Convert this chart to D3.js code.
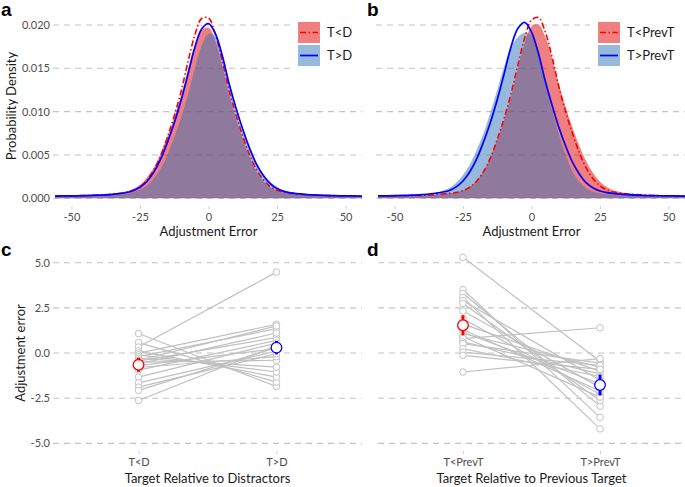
<!DOCTYPE html>
<html><head><meta charset="utf-8">
<script src="https://cdn.jsdelivr.net/npm/d3@7"></script>
<style>
body{margin:0;background:#fff;}
text{font-family:Lato,"Open Sans",sans-serif;}
</style></head>
<body><svg id="c" width="685" height="487"></svg>
<script>
// ---------- DATA ----------
const errX = [-56,-50,-45,-40,-35,-30,-27.5,-25,-22.5,-20,-17.5,-15,-12.5,-10,-7.5,-5,-2.5,0,2.5,5,7.5,10,12.5,15,17.5,20,22.5,25,27.5,30,35,40,45,50,56];
// panel a: empirical densities (filled) and fitted densities (lines)
const aFillTlessD    = [0.00025,0.00029,0.00033,0.00041,0.00054,0.00079,0.00108,0.00155,0.00238,0.00352,0.00512,0.00712,0.00932,0.01185,0.01488,0.01762,0.0194,0.0197,0.01814,0.0153,0.01198,0.00925,0.00683,0.00473,0.0031,0.00198,0.00127,0.00085,0.00064,0.00054,0.0004,0.00032,0.00028,0.00026,0.00025];
const aFillTgreaterD = [0.00025,0.00026,0.00028,0.00033,0.00042,0.00058,0.00071,0.00098,0.00144,0.00225,0.0034,0.00503,0.00705,0.00931,0.0119,0.01498,0.01757,0.019,0.0187,0.0164,0.0131,0.0101,0.0077,0.0057,0.004,0.0028,0.0019,0.0013,0.0009,0.00068,0.00047,0.00036,0.0003,0.00027,0.00025];
const aLineTlessD    = [0.00027,0.00029,0.00032,0.00038,0.00049,0.00069,0.00092,0.00134,0.00209,0.00325,0.0049,0.00706,0.00952,0.01233,0.01573,0.01882,0.02075,0.0208,0.01892,0.01586,0.01245,0.00964,0.00716,0.00498,0.0033,0.00214,0.00137,0.00093,0.0007,0.00059,0.00044,0.00035,0.00031,0.00029,0.00027];
const aLineTgreaterD = [0.00026,0.00028,0.0003,0.00036,0.00046,0.00067,0.00088,0.00127,0.00194,0.00299,0.00448,0.00644,0.00869,0.01131,0.0143,0.0174,0.01955,0.02016,0.019,0.0165,0.01325,0.01046,0.00797,0.00578,0.00394,0.00263,0.0017,0.00113,0.0008,0.00063,0.00046,0.00036,0.0003,0.00028,0.00026];
// panel b
const bFillTlessPrevT    = [0.00026,0.00027,0.00029,0.00033,0.00042,0.00057,0.00067,0.00089,0.00129,0.002,0.00309,0.00467,0.00671,0.00905,0.01174,0.01493,0.01794,0.01984,0.02008,0.01864,0.01618,0.01311,0.01048,0.00812,0.00602,0.00424,0.00289,0.00192,0.00129,0.0009,0.00059,0.00044,0.00035,0.0003,0.00028];
const bFillTgreaterPrevT = [0.00026,0.00028,0.00032,0.0004,0.00062,0.0012,0.0018,0.0027,0.0039,0.0056,0.0075,0.0099,0.0125,0.0152,0.0174,0.0186,0.0191,0.0188,0.0168,0.01336,0.01012,0.00733,0.00495,0.00309,0.00188,0.00115,0.00076,0.00058,0.00048,0.0004,0.00032,0.00028,0.00026,0.00025,0.00024];
const bLineTlessPrevT    = [0.00027,0.00028,0.0003,0.00034,0.00042,0.00057,0.00067,0.00088,0.00128,0.002,0.00309,0.00466,0.00678,0.0092,0.01203,0.01531,0.0185,0.02056,0.02087,0.01922,0.0163,0.01285,0.00995,0.00743,0.00523,0.00347,0.00225,0.00143,0.00097,0.00072,0.0005,0.00039,0.00032,0.00029,0.00028];
const bLineTgreaterPrevT = [0.00027,0.0003,0.00035,0.00043,0.00058,0.0009,0.00132,0.002,0.00307,0.00455,0.00652,0.00875,0.01137,0.01435,0.01744,0.01959,0.0203,0.01918,0.01677,0.01356,0.01074,0.00818,0.00601,0.00414,0.00278,0.00177,0.00119,0.00084,0.00065,0.00055,0.00042,0.00034,0.0003,0.00028,0.00026];

const densTicks = [0,0.005,0.01,0.015,0.02];
const errTicks = [-50,-25,0,25,50];

// panel c: per-participant mean adjustment errors
const cCategories = ["T<D","T>D"];
const cTlessD    = [1.08,0.58,0.33,0.11,0.0,-0.1,-0.2,-0.3,-0.4,-0.45,-0.5,-0.6,-0.7,-0.8,-0.95,-1.33,-1.65,-1.89,-2.07,-2.63];
const cTgreaterD = [-1.85,-1.61,4.48,-1.33,1.59,-1.05,1.35,-0.78,1.5,0.86,-0.4,1.11,0.25,-0.2,0.7,0.55,0.1,-0.03,0.3,0.4];
const cMeans = [-0.65,0.3];
const cErr   = [0.39,0.37];
// panel d
const dCategories = ["T<PrevT","T>PrevT"];
const dTlessPrevT    = [5.3,3.52,3.3,3.08,2.9,2.74,2.33,1.9,1.6,1.3,1.15,1.08,0.9,0.8,0.62,0.52,0.24,0.05,-0.13,-1.05];
const dTgreaterPrevT = [-0.45,-3.56,-2.94,-4.2,-1.5,-2.63,-1.9,-2.3,-1.0,-2.1,-1.7,-0.78,-2.44,1.4,-1.15,-0.56,-1.3,-0.68,-0.9,-0.31];
const dMeans = [1.54,-1.77];
const dErr   = [0.55,0.58];
const errorTicks = [-5,-2.5,0,2.5,5];

// ---------- STYLE ----------
const RED_FILL = "rgba(225,0,0,0.5)";
const BLUE_FILL = "rgba(45,115,185,0.5)";
const GRID = "#c4c4c4";
const TICKTXT = "#4d4d4d";

const svg = d3.select("#c");

const yD = d3.scaleLinear().domain([-0.00105,0.0215]).range([207.4,12]);
const yE = d3.scaleLinear().domain([-5.48,5.54]).range([452,253]);

function grid(g, ticks, y, x0, x1){
  g.append("g").selectAll("line").data(ticks).join("line")
    .attr("x1",x0).attr("x2",x1).attr("y1",d=>y(d)).attr("y2",d=>y(d))
    .attr("stroke",GRID).attr("stroke-width",1.1).attr("stroke-dasharray","6,5");
}
function styleAxis(ax){
  ax.select(".domain").remove();
  ax.selectAll(".tick line").attr("stroke","#cfcfcf");
  ax.selectAll(".tick text").attr("fill",TICKTXT).attr("font-size",11).attr("font-family","Lato,sans-serif");
}

function densityPanel(x0, x1, fills, lines, labels, showY, letter, lx){
  const x = d3.scaleLinear().domain([-56,56]).range([x0,x1]);
  const g = svg.append("g");
  grid(g, densTicks, yD, x0-2, x1);
  const area = d3.area().x((d,i)=>x(errX[i])).y0(yD(0)).y1(d=>yD(d)).curve(d3.curveCatmullRom);
  const line = d3.line().x((d,i)=>x(errX[i])).y(d=>yD(d)).curve(d3.curveCatmullRom);
  g.append("path").datum(fills[0]).attr("d",area).attr("fill",RED_FILL);
  g.append("path").datum(fills[1]).attr("d",area).attr("fill",BLUE_FILL);
  g.append("path").datum(lines[0]).attr("d",line).attr("fill","none").attr("stroke","#ff0000").attr("stroke-width",1.6).attr("stroke-dasharray","6,2.5,1.5,2.5");
  g.append("path").datum(lines[1]).attr("d",line).attr("fill","none").attr("stroke","#0000ff").attr("stroke-width",1.7);
  if(showY){
    const ay = g.append("g").attr("transform",`translate(${x0-2},0)`)
      .call(d3.axisLeft(yD).tickValues(densTicks).tickSize(0).tickPadding(3).tickFormat(d=>d.toFixed(3)));
    styleAxis(ay);
    g.append("text").attr("transform","translate(16,106) rotate(-90)").attr("text-anchor","middle")
      .attr("font-size",13).attr("fill","#1a1a1a").text("Probability Density");
  }
  const ax = g.append("g").attr("transform","translate(0,206)")
    .call(d3.axisBottom(x).tickValues(errTicks).tickSize(3).tickPadding(4).tickFormat(d=>String(d)));
  styleAxis(ax);
  g.append("text").attr("x",(x0+x1)/2).attr("y",236).attr("text-anchor","middle")
    .attr("font-size",13).attr("fill","#1a1a1a").text("Adjustment Error");
  // legend
  const keys = [{fill:RED_FILL,stroke:"#ff0000",dash:"6,2.5,1.5,2.5",w:1.6,label:labels[0]},
                {fill:BLUE_FILL,stroke:"#0000ff",dash:null,w:1.7,label:labels[1]}];
  const lg = g.append("g").attr("transform",`translate(${lx},22)`);
  lg.append("rect").attr("x",-8).attr("y",-3).attr("width",labels[0].length*9+45).attr("height",50).attr("fill","#fff");
  keys.forEach((k,i)=>{
    const kg = lg.append("g").attr("transform",`translate(0,${i*23})`);
    kg.append("rect").attr("width",22).attr("height",21).attr("fill",k.fill);
    kg.append("line").attr("x1",2).attr("x2",20).attr("y1",10.5).attr("y2",10.5)
      .attr("stroke",k.stroke).attr("stroke-width",k.w).attr("stroke-dasharray",k.dash);
    kg.append("text").attr("x",29).attr("y",15).attr("font-size",13).attr("fill","#1a1a1a").text(k.label);
  });
  svg.append("text").attr("x",letter[1]).attr("y",16).attr("font-size",19).attr("font-weight","bold")
    .style("font-family","'Liberation Sans',Arial,sans-serif").text(letter[0]);
}

densityPanel(55,362,[aFillTlessD,aFillTgreaterD],[aLineTlessD,aLineTgreaterD],["T<D","T>D"],true,["a",1],298);
densityPanel(378,685,[bFillTlessPrevT,bFillTgreaterPrevT],[bLineTlessPrevT,bLineTgreaterPrevT],["T<PrevT","T>PrevT"],false,["b",367],598);

function pairPanel(x0, x1, cats, left, right, means, errs, showY, title, letter){
  const x = d3.scalePoint().domain(cats).range([x0,x1]).padding(0.62);
  const g = svg.append("g");
  grid(g, errorTicks, yE, x0, x1);
  g.append("g").selectAll("line").data(left).join("line")
    .attr("x1",x(cats[0])).attr("x2",x(cats[1]))
    .attr("y1",d=>yE(d)).attr("y2",(d,i)=>yE(right[i]))
    .attr("stroke","#c0c0c0").attr("stroke-width",1.2);
  const pts = left.map(v=>({c:cats[0],v})).concat(right.map(v=>({c:cats[1],v})));
  g.append("g").selectAll("circle").data(pts).join("circle")
    .attr("cx",d=>x(d.c)).attr("cy",d=>yE(d.v)).attr("r",3.3)
    .attr("fill","#fff").attr("stroke","#c4c4c4").attr("stroke-width",1);
  const cols = ["#ff0000","#0000ff"];
  cats.forEach((c,i)=>{
    g.append("line").attr("x1",x(c)).attr("x2",x(c))
      .attr("y1",yE(means[i]+errs[i])).attr("y2",yE(means[i]-errs[i]))
      .attr("stroke",cols[i]).attr("stroke-width",3);
    g.append("circle").attr("cx",x(c)).attr("cy",yE(means[i])).attr("r",5.3)
      .attr("fill","#fff").attr("stroke",cols[i]).attr("stroke-width",1.3);
  });
  if(showY){
    const ay = g.append("g").attr("transform",`translate(${x0},0)`)
      .call(d3.axisLeft(yE).tickValues(errorTicks).tickSize(0).tickPadding(3).tickFormat(d=>d.toFixed(1)));
    styleAxis(ay);
    g.append("text").attr("transform","translate(25,353) rotate(-90)").attr("text-anchor","middle")
      .attr("font-size",13).attr("fill","#1a1a1a").text("Adjustment error");
  }
  const ax = g.append("g").attr("transform","translate(0,451)")
    .call(d3.axisBottom(x).tickSize(3).tickPadding(4));
  styleAxis(ax);
  g.append("text").attr("x",(x0+x1)/2).attr("y",483).attr("text-anchor","middle")
    .attr("font-size",13).attr("fill","#1a1a1a").text(title);
  svg.append("text").attr("x",letter[1]).attr("y",256).attr("font-size",19).attr("font-weight","bold")
    .style("font-family","'Liberation Sans',Arial,sans-serif").text(letter[0]);
}

pairPanel(53,362,cCategories,cTlessD,cTgreaterD,cMeans,cErr,true,"Target Relative to Distractors",["c",1]);
pairPanel(378,685,dCategories,dTlessPrevT,dTgreaterPrevT,dMeans,dErr,false,"Target Relative to Previous Target",["d",367]);
</script>
</body></html>
